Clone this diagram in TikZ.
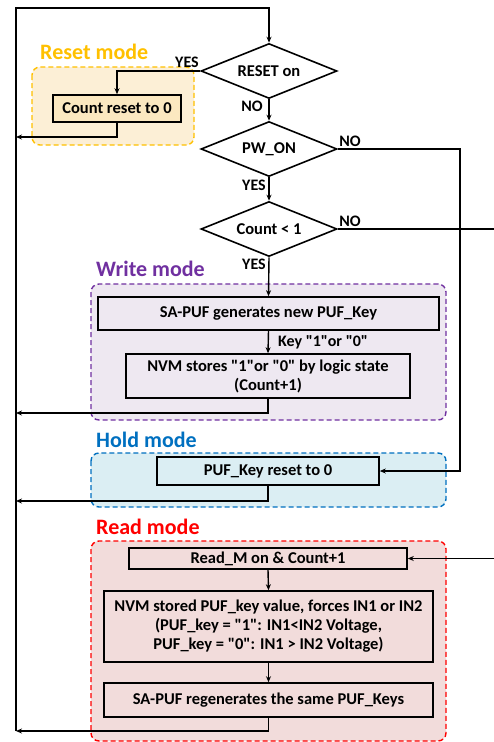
\documentclass[tikz,border=0pt]{standalone}
\usepackage{fontspec}
\setmainfont{Carlito}[Ligatures=TeXOff]
\usepackage{tikz}
\usetikzlibrary{shapes,shapes.geometric,arrows.meta,calc,positioning}

\definecolor{resetc}{HTML}{FFC000}
\definecolor{resetf}{HTML}{FCEFD6}
\definecolor{resetb}{HTML}{FBE8C0}
\definecolor{writec}{HTML}{7030A0}
\definecolor{writef}{HTML}{EEE8F1}
\definecolor{holdc}{HTML}{0070C0}
\definecolor{holdf}{HTML}{DBEEF3}
\definecolor{readc}{HTML}{FF0000}
\definecolor{readf}{HTML}{F2DCDB}

\begin{document}
\begin{tikzpicture}[%
x=1pt, y=-1pt,
>={Stealth[length=6pt,width=5pt]},
font=\fontsize{16.5}{19}\selectfont\bfseries,
decision/.style={diamond, draw, line width=1.6pt, inner sep=0pt,
  minimum width=136pt, minimum height=55pt, aspect=2.5},
process/.style={rectangle, draw, line width=1.6pt, inner sep=2pt, align=center},
line/.style={line width=1.4pt},
mode/.style={dashed, dash pattern=on 5pt off 3pt, line width=1.4pt, rounded corners=8pt},
modelabel/.style={anchor=west, inner sep=0pt, font=\fontsize{22}{25}\selectfont\bfseries},
lbl/.style={inner sep=0pt, font=\fontsize{16}{18}\selectfont\bfseries}
]
\useasboundingbox (0,0) rectangle (493,742);

% mode regions
\draw[mode, draw=resetc, fill=resetf] (32,67) rectangle (194,145);
\draw[mode, draw=writec, fill=writef] (91,284) rectangle (446,420);
\draw[mode, draw=holdc, fill=holdf] (91,453) rectangle (446,507);
\draw[mode, draw=readc, fill=readf] (91,541) rectangle (446,741);
\node[modelabel, text=resetc] (resetlbl) at (40,52) {Reset mode};
\node[modelabel, text=writec] (writelbl) at (96,269) {Write mode};
\node[modelabel, text=holdc] (holdlbl) at (96,440) {Hold mode};
\node[modelabel, text=readc] (readlbl) at (96,527) {Read mode};

% decisions
\node[decision] (reset) at (269,71) {RESET on};
\node[decision] (pwon) at (269,149) {PW\_ON};
\node[decision] (count) at (269,229) {Count < 1};

% processes
\node[process, fill=resetb, minimum width=128pt, minimum height=27pt] (resetbox) at (117,108.5) {Count reset to 0};
\node[process, fill=writef, minimum width=341pt, minimum height=33pt] (gen) at (268.5,313.5) {SA-PUF generates new PUF\_Key};
\node[process, fill=writef, minimum width=284pt, minimum height=44pt] (store) at (268,376) {NVM stores "1"or "0" by logic state\\(Count+1)};
\node[process, fill=holdf, minimum width=222pt, minimum height=28pt] (holdbox) at (268,471) {PUF\_Key reset to 0};
\node[process, fill=readf, minimum width=278pt, minimum height=21pt] (readm) at (268,558.5) {Read\_M on \& Count+1};
\node[process, fill=readf, minimum width=329pt, minimum height=71pt] (force) at (268.5,626.5) {NVM stored PUF\_key value, forces IN1 or IN2\\(PUF\_key = "1": IN1<IN2 Voltage,\\PUF\_key = "0": IN1 > IN2 Voltage)};
\node[process, fill=readf, minimum width=329pt, minimum height=34pt] (regen) at (268.5,700) {SA-PUF regenerates the same PUF\_Keys};

% free ends
\coordinate (tl) at (16,8);
\coordinate (tr) at (269,8);
\coordinate (bl) at (16,731);
\coordinate (l1) at (16,137);
\coordinate (l2) at (16,413);
\coordinate (l3) at (16,501);
\coordinate (l4) at (16,731);
\coordinate (r1) at (460,149);
\coordinate (r2) at (498,229);
\coordinate (r3) at (498,558.5);

% labels
\node[lbl] (yes1) at (187,62) {YES};
\node[lbl] (no1) at (252,106) {NO};
\node[lbl] (no2) at (350,141) {NO};
\node[lbl] (yes2) at (254,185) {YES};
\node[lbl] (no3) at (350,221) {NO};
\node[lbl] (yes3) at (254,264) {YES};
\node[lbl, anchor=west] (keylbl) at (278,342) {Key "1"or "0"};

% connectors
\draw[line, ->] (bl) -- (tl) -- (tr) -- (reset.north);
\draw[line, ->] (reset.west) -| (resetbox.north);
\draw[line, ->] (resetbox.south) |- (l1);
\draw[line, ->] (reset.south) -- (pwon.north);
\draw[line, ->] (pwon.south) -- (count.north);
\draw[line, ->] (pwon.east) -- (r1) |- (holdbox.east);
\draw[line, ->] (count.south) -- (gen.north);
\draw[line, ->] (count.east) -- (r2) -- (r3) -- (readm.east);
\draw[line, ->] (gen.south) -- (store.north);
\draw[line, ->] (store.south) |- (l2);
\draw[line, ->] (holdbox.south) |- (l3);
\draw[line, ->] (readm.south) -- (force.north);
\draw[line, ->] (force.south) -- (regen.north);
\draw[line, ->] (regen.south) |- (l4);

\end{tikzpicture}
\end{document}
